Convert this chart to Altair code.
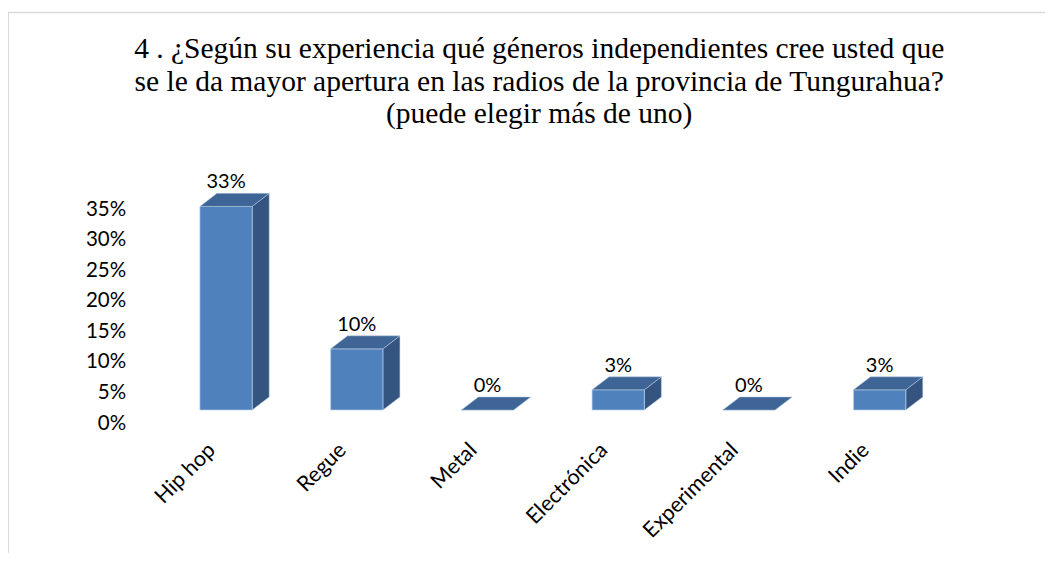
import json
import altair as alt
import pandas as pd

categories = ["Hip hop", "Regue", "Metal", "Electrónica", "Experimental", "Indie"]
values = [0.333, 0.10, 0.0, 0.033, 0.0, 0.033]
value_labels = ["33%", "10%", "0%", "3%", "0%", "3%"]
y_ticks = [0, 0.05, 0.10, 0.15, 0.20, 0.25, 0.30, 0.35]
title_lines = [
    "4 . ¿Según su experiencia qué géneros independientes cree usted que",
    "se le da mayor apertura en las radios de la  provincia de Tungurahua?",
    "(puede elegir más de uno)",
]

# 3D look parameters (style)
W = 0.4      # bar width (category units)
DX = 0.13    # depth offset, x (category units)
DY = 0.0213  # depth offset, y (value units)

FRONT = "#4F81BD"
TOP = "#3E6595"
SIDE = "#34557F"
EDGE = "#B9CDE5"
FONT = "Lato"

idx = list(range(len(categories)))
front = pd.DataFrame({"cat": categories, "i": idx, "v": values, "lab": value_labels})
front["x0"] = front["i"] - W / 2
front["x1"] = front["i"] + W / 2
front["y0"] = 0.0
front["ylab"] = front["v"] + DY

side_rows, top_rows = [], []
for i, (c, v) in enumerate(zip(categories, values)):
    side_rows.append({"cat": c, "x": i + W / 2, "y": 0.0, "y2": v})
    side_rows.append({"cat": c, "x": i + W / 2 + DX, "y": DY, "y2": v + DY})
    top_rows.append({"cat": c, "y": v, "x": i - W / 2, "x2": i + W / 2})
    top_rows.append({"cat": c, "y": v + DY, "x": i - W / 2 + DX, "x2": i + W / 2 + DX})
side = pd.DataFrame(side_rows)
topf = pd.DataFrame(top_rows)

xscale = alt.Scale(domain=[-0.5, len(categories) - 0.5], nice=False, zero=False)
yscale = alt.Scale(domain=[0, 0.35], nice=False, zero=False)

label_expr = json.dumps(categories, ensure_ascii=False) + "[datum.value]"

x_axis = alt.Axis(
    values=idx, labelExpr=label_expr, labelAngle=315, labelFont=FONT,
    labelFontSize=21.5, labelColor="black", ticks=False, domain=False, grid=False,
    title=None, labelPadding=29, labelOffset=-22,
)
y_axis = alt.Axis(
    values=y_ticks, format=".0%", labelFont=FONT, labelFontSize=20.5,
    labelColor="black", ticks=False, domain=False, grid=False, title=None,
    labelPadding=35, labelOffset=13,
)

front_layer = alt.Chart(front).mark_rect(
    color=FRONT, stroke=EDGE, strokeWidth=0.7
).encode(
    x=alt.X("x0:Q", scale=xscale, axis=x_axis),
    x2="x1:Q",
    y=alt.Y("y0:Q", scale=yscale, axis=y_axis),
    y2="v:Q",
)

side_layer = alt.Chart(side).mark_area(
    orient="vertical", color=SIDE, stroke=EDGE, strokeWidth=0.5
).encode(
    x=alt.X("x:Q", scale=xscale, axis=x_axis),
    y=alt.Y("y:Q", scale=yscale, axis=y_axis),
    y2="y2:Q",
    detail="cat:N",
)

top_layer = alt.Chart(topf).mark_area(
    orient="horizontal", color=TOP, stroke=EDGE, strokeWidth=0.5
).encode(
    y=alt.Y("y:Q", scale=yscale, axis=y_axis),
    x=alt.X("x:Q", scale=xscale, axis=x_axis),
    x2="x2:Q",
    detail="cat:N",
)

text_layer = alt.Chart(front).mark_text(
    font=FONT, fontSize=20, color="black", baseline="alphabetic", align="center", dy=-5
).encode(
    x=alt.X("i:Q", scale=xscale, axis=x_axis),
    y=alt.Y("ylab:Q", scale=yscale, axis=y_axis),
    text="lab:N",
)

one = pd.DataFrame({"k": ["a"]})
title_layer = alt.Chart(one).mark_text(
    text=title_lines, font="Liberation Serif", fontSize=29.5,
    lineHeight=32.5, color="black", align="center", baseline="top",
).encode(x=alt.value(378.5), y=alt.value(-161))

top_rule = alt.Chart(one).mark_rule(color="#D9D9D9", strokeWidth=1.5).encode(
    x=alt.value(-153.5), x2=alt.value(900), y=alt.value(-183.5)
)
left_rule = alt.Chart(one).mark_rule(color="#D9D9D9", strokeWidth=2).encode(
    x=alt.value(-152.7), y=alt.value(-183.5), y2=alt.value(360)
)

chart = alt.layer(
    top_rule, left_rule, side_layer, front_layer, top_layer, text_layer, title_layer
).properties(
    width=784.3,
    height=214,
    autosize=alt.AutoSizeParams(type="none"),
    padding={"left": 152.7, "top": 188, "right": 100, "bottom": 143},
    view=alt.ViewBackground(stroke="transparent", strokeWidth=0),
).configure_view(strokeWidth=0, stroke="transparent").configure(background="white")

chart.save("out.html", embed_options={"renderer": "svg", "actions": False})
